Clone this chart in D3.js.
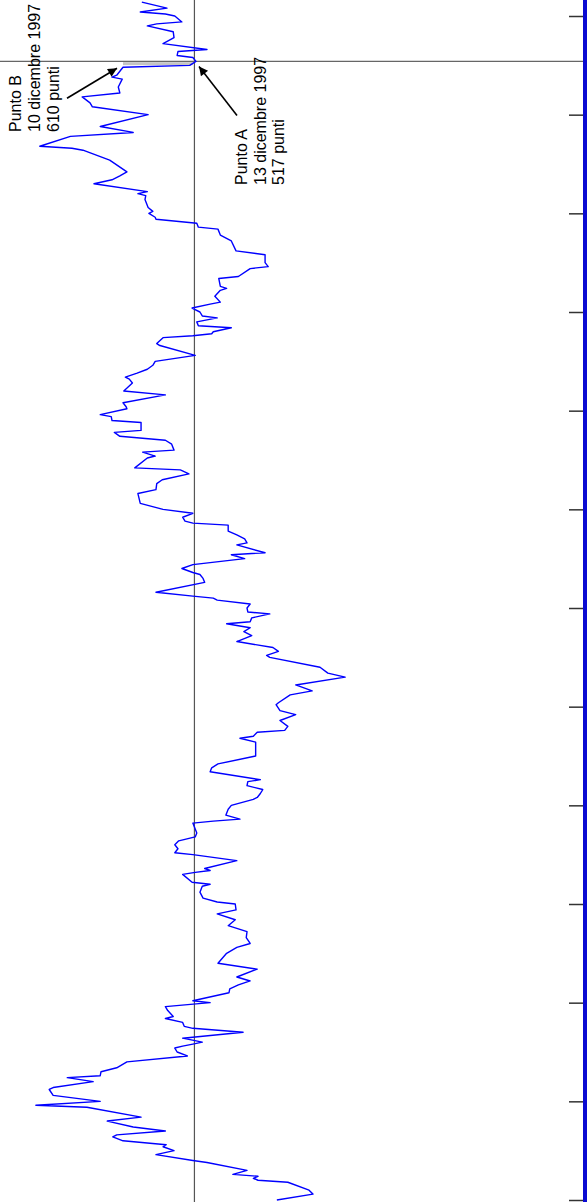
<!DOCTYPE html>
<html>
<head>
<meta charset="utf-8">
<script src="https://cdn.jsdelivr.net/npm/d3@7"></script>
<style>
  html, body { margin: 0; padding: 0; background: #fff; }
  svg { display: block; }
  text { font-family: "Liberation Sans", Arial, sans-serif; font-size: 16px; fill: #000; }
</style>
</head>
<body>
<div id="chart"></div>
<script>
// Day index (0 = start of series) and index level in points
const days = [0,3,5,9,10,11,12,13,15,19,20,23,25,27,28,30,32,33,35,37,40,42,47,48,50,53,56,57,60,62,63,65,67,70,73,75,77,78,79,80,82,85,87,88,90,92,93,96,98,100,101,105,107,109,111,113,117,120,125,128,130,133,136,139,142,145,147,150,151,153,156,159,160,161,165,166,167,168,172,175,176,178,180,182,184,186,188,191,192,193,195,198,200,203,204,206,208,210,212,213,217,219,221,225,232,234,235,237,238,240,243,246,248,251,252,256,258,261,265,267,270,275,276,278,280,283,286,288,290,292,293,295,297,298,300,302,304,305,306,308,313,315,317,318,320,322,325,327,328,332,333,335,337,339,342,343,344,346,348,350,353,358,360,363,365,368,370,371,376,377,379,380,383,385,387,389,390,394,395,397,398,401,402,404,408,410,414,416,417,419,421,423,425,428,433,434,437,438,439,440,442,443,445,447,448,450,452,454,455,458,461,462,463,467,468,472,473,475,479,481,486,489,492,493,495,497,498,500,501,503,507,509,510,511,515,517,519,521,527,532,533,534,539,541,544,550,554,556,559,561,564,568,569,570,574,575,576,577,579,580,582,583,586,589,592,595,596,597,600,601,602,604,607];
const points = [414,368,373,400,438,444,438,470,452,503,521,568,545,559,555,610,623,618,556,597,630,587,656,721,639,699,704,699,648,681,639,638,618,605,528,541,544,534,521,509,534,457,521,532,534,556,546,553,556,499,521,475,474,463,448,465,439,489,478,465,448,453,452,476,467,490,466,467,490,508,512,509,499,522,534,518,499,506,465,521,544,540,544,539,518,516,518,521,495,461,479,476,472,444,439,435,432,452,451,435,499,497,489,441,441,461,444,439,404,400,410,390,410,415,412,397,369,390,327,349,359,423,427,412,419,465,446,456,448,478,448,446,423,451,452,448,490,495,521,568,506,508,512,521,535,521,455,472,429,465,452,455,465,476,476,521,531,534,521,559,588,591,568,567,560,526,537,595,579,569,585,545,548,556,614,621,587,587,624,625,639,605,606,610,556,609,598,602,607,592,579,572,569,518,563,567,559,521,497,495,472,514,516,490,509,512,522,499,486,493,486,478,486,488,463,448,425,429,429,466,472,486,489,514,516,568,569,577,572,578,582,581,591,579,647,624,614,605,627,661,675,716,677,597,639,578,649,652,662,614,616,611,624,618,610,525,521,517,521,541,540,503,559,545,546,579,567,535,544,556,588,554,586];
const tickDays = [0,50,100,150,200,250,300,350,400,450,500,550,600];
const refLevel = 519;
const annotations = [
  { name: "Punto B", date: "10 dicembre 1997", label: "610 punti", day: 574, value: 610 },
  { name: "Punto A", date: "13 dicembre 1997", label: "517 punti", day: 577, value: 517 }
];

const W = 587, H = 1202;
const svg = d3.select("#chart").append("svg").attr("width", W).attr("height", H);
svg.append("rect").attr("width", W).attr("height", H).attr("fill", "#fff");

const x = d3.scaleLinear().domain([517, 610]).range([196, 123]);
const y = d3.scaleLinear().domain([0, 600]).range([1200, 16]);

const data = days.map((d, i) => ({ day: d, value: points[i] }));
const A = annotations[1], B = annotations[0];

// reference lines
svg.append("line").attr("x1", x(refLevel)).attr("x2", x(refLevel)).attr("y1", 0).attr("y2", H)
  .attr("stroke", "#555").attr("stroke-width", 1.2);
svg.append("line").attr("x1", 0).attr("x2", 583).attr("y1", y(A.day)).attr("y2", y(A.day))
  .attr("stroke", "#666").attr("stroke-width", 1.2);

// grey band between B and A
svg.append("rect")
  .attr("x", x(B.value)).attr("width", x(521) - x(B.value))
  .attr("y", y(A.day - 0.4)).attr("height", y(B.day + 1.1) - y(A.day - 0.4))
  .attr("fill", "#c4c4c4");

// series line
const line = d3.line().x(d => x(d.value)).y(d => y(d.day));
svg.append("path").datum(data).attr("d", line)
  .attr("fill", "none").attr("stroke", "#0000ff").attr("stroke-width", 1.4)
  .attr("stroke-linejoin", "round");

// right axis (ticks only) + blue bar
const axis = d3.axisLeft(y).tickValues(tickDays).tickSize(14).tickFormat("");
const ag = svg.append("g").attr("transform", "translate(583,0)").call(axis);
ag.select(".domain").remove();
ag.selectAll(".tick line").attr("stroke", "#333").attr("stroke-width", 1.5);
svg.append("rect").attr("x", 583).attr("y", 0).attr("width", 4).attr("height", H).attr("fill", "#0a0ad2");

// arrows
const defs = svg.append("defs");
defs.append("marker").attr("id", "ah").attr("viewBox", "0 0 10 10").attr("refX", 10).attr("refY", 5)
  .attr("markerWidth", 12).attr("markerHeight", 9).attr("markerUnits", "userSpaceOnUse")
  .attr("orient", "auto")
  .append("path").attr("d", "M0,0 L10,5 L0,10 Z").attr("fill", "#000");

const hb = [x(B.value) - 6, y(B.day) + 1];
svg.append("line").attr("x1", hb[0] - 50).attr("y1", hb[1] + 30).attr("x2", hb[0]).attr("y2", hb[1])
  .attr("stroke", "#000").attr("stroke-width", 1.6).attr("marker-end", "url(#ah)");
const ha = [x(A.value) + 3, y(A.day) + 5];
svg.append("line").attr("x1", ha[0] + 38).attr("y1", ha[1] + 49).attr("x2", ha[0]).attr("y2", ha[1])
  .attr("stroke", "#000").attr("stroke-width", 1.6).attr("marker-end", "url(#ah)");

// labels (rotated)
function label(lines, x0, yStart, step) {
  lines.forEach((t, i) => {
    svg.append("text")
      .attr("transform", `translate(${x0 + i * step},${yStart}) rotate(-90)`)
      .text(t);
  });
}
label([B.name, B.date, B.label], 20.5, 132, 19);
label([A.name, A.date, A.label], 247, 185, 18.5);
</script>
</body>
</html>
